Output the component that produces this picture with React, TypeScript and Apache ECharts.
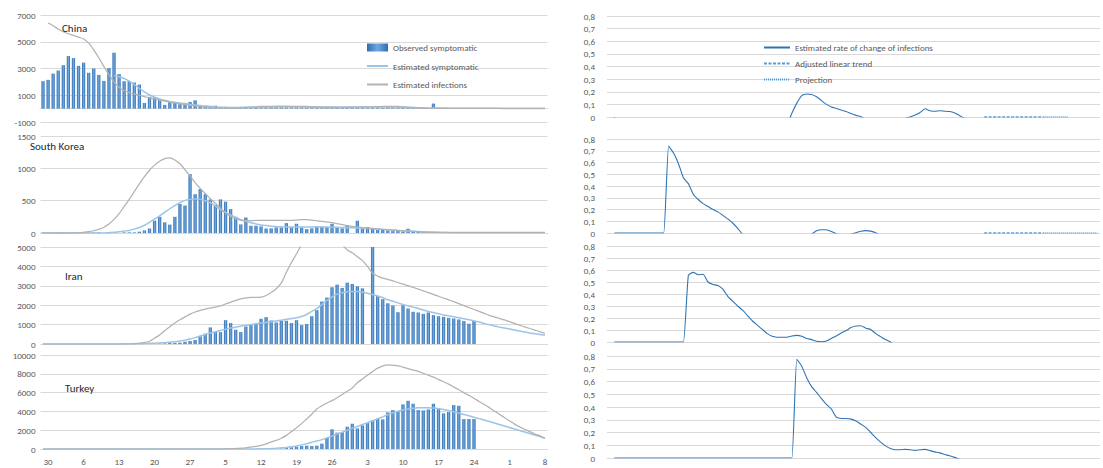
import React, { useEffect, useRef } from 'react';
import * as echarts from 'echarts';

// ---------- categories / ticks ----------
const DAY_COUNT = 100;
const days = Array.from({ length: DAY_COUNT }, (_, i) => `d${i}`);
const tickLabels = ['30', '6', '13', '20', '27', '5', '12', '19', '26', '3', '10', '17', '24', '1', '8'];
const FIRST_TICK = 1;
const TICK_STEP = 7;

function fromDay(start: number, values: (number | null)[]) {
  const out: (number | null)[] = new Array(start).fill(null).concat(values);
  while (out.length < DAY_COUNT) out.push(null);
  return out;
}

// ---------- China ----------
const chinaObserved = [
  2050, 2150, 2620, 2850, 3250, 3930, 3780, 3200, 3440, 2680,
  3000, 2520, 2070, 3030, 4180, 2580, 2050, 2070, 1950, 1800,
  420, 880, 860, 650, 280, 550, 500, 450, 430, 500,
  620, 250, 200, 150, 220, 100, 90, 80, 70, 80,
  90, 100, 110, 100, 110, 120, 110, 120, 110, 100,
  110, 100, 90, 100, 90, 80, 90, 80, 90, 80,
  90, 80, 90, 80, 70, 80, 90, 80, 100, 90,
  80, 70, 60, 50, 40, 50, 40, 380, 60, 50,
  40, 40, 30, 30, 20, 20,
];
const chinaSymptomatic = [
  2450, 2380, 2250, 2050, 1800, 1520, 1250, 1020, 850, 720,
  620, 540, 470, 410, 360, 310, 270, 230, 190, 160,
  130, 110, 95, 90, 90, 95, 100, 105, 110, 115,
  120, 125, 130, 130, 130, 125, 120, 115, 110, 110,
  110, 110, 110, 110, 110, 110, 110, 115, 120, 125,
  130, 130, 130, 125, 120, 115, 110, 100, 90, 80,
  70, 60, 50, 45, 40, 40, 35, 35, 30, 30,
  30, 25, 25, 20, 20, 20, 20, 15, 15, 15,
  15, 15, 10, 10, 10, 10,
];
const chinaInfections = [
  6400, 6200, 5950, 5750, 5600, 5480, 5350, 5200, 4900,
  4400, 3800, 3150, 2550, 2000, 1600, 1350, 1200, 1100, 1000,
  900, 800, 720, 640, 560, 490, 420, 360, 300, 250,
  200, 160, 120, 90, 60, 40, 30, 30, 40, 60,
  90, 120, 140, 160, 170, 175, 180, 180, 180, 175,
  170, 165, 160, 150, 140, 130, 125, 120, 120, 120,
  120, 120, 120, 125, 130, 140, 150, 160, 170, 170,
  160, 140, 110, 80, 50, 30, 20, 15, 15, 15,
  15, 15, 15, 15, 15, 15, 15, 15, 15, 15,
  15, 15, 15, 15, 15, 15, 15, 15, 15, 15,
];

// ---------- South Korea ----------
const koreaObserved = [
  10, 8, 10, 12, 8, 10, 10, 8, 10, 6,
  8, 10, null, null, null, null, 10, 10, 10, 20,
  40, 70, 190, 250, 165, 130, 250, 450, 425, 910,
  600, 680, 600, 520, 435, 520, 485, 370, 250, 133,
  240, 112, 112, 102, 70, 72, 87, 87, 153, 87,
  143, 87, 60, 72, 102, 102, 92, 143, 92, 72,
  117, null, 190, 72, 92, 77, 46, 46, 40, 30,
  36, 25, 66, 20, 15, 18, 14, 12, 10, 12,
  10, 8, 10, 8, 10, 9,
];
const koreaSymptomatic = [
  0, 0, 0, 0, 0, 0, 0, 0, 0, 0,
  0, 0, 0, 5, 10, 20, 30, 40, 60, 85,
  120, 165, 215, 265, 320, 375, 425, 470, 505, 520,
  525, 520, 500, 470, 420, 360, 320, 280, 240, 205,
  180, 160, 140, 125, 115, 105, 100, 95, 92, 92,
  92, 92, 92, 92, 92, 92, 92, 90, 88, 85,
  82, 80, 78, 75, 72, 68, 64, 58, 52, 46,
  40, 34, 30, 26, 22, 18, 15, 12, 10, 8,
  6, 5, 4, 3, 2, 2, 2, 2, 2, 2,
  2, 2, 2, 2, 2, 2, 2, 2, 2, 2,
];
const koreaInfections = [
  0, 0, 0, 0, 0, 0, 0, 5, 10, 20,
  35, 55, 90, 140, 210, 300, 410, 520, 640, 760,
  870, 970, 1050, 1110, 1150, 1160, 1130, 1070, 980, 880,
  780, 690, 610, 530, 460, 380, 310, 255, 220, 200,
  190, 190, 195, 195, 195, 195, 195, 195, 195, 195,
  200, 205, 205, 200, 190, 180, 170, 160, 145, 130,
  115, 102, 92, 85, 76, 68, 61, 55, 50, 46,
  40, 35, 30, 25, 20, 17, 14, 12, 10, 10,
  10, 10, 10, 10, 10, 10, 10, 10, 10, 10,
  10, 10, 10, 10, 10, 10, 10, 10, 10, 10,
];

// ---------- Iran ----------
const iranObserved = [
  20, 25, 30, 35, 50, 55, 70, 120, 155,
  205, 395, 530, 855, 615, 615, 1230, 1080, 735, 615,
  905, 990, 1045, 1300, 1385, 1215, 1110, 1200, 1200, 1080,
  1230, 975, 1030, 1435, 1745, 2190, 2395, 2925, 3060, 2890,
  3165, 3095, 2975, 2870, null, 5275, 2480, 2310, 2100, 1985,
  1640, 2000, 1830, 1660, 1625, 1555, 1625, 1490, 1435, 1400,
  1350, 1315, 1265, 1180, 1045, 1200,
];
const iranSymptomatic = [
  0, 0, 0, 0, 0, 0, 0, 0, 0, 0,
  0, 0, 0, 0, 0, 0, 0, 0, 5, 10,
  20, 35, 45, 55, 70, 85, 110, 150, 200, 255,
  330, 410, 490, 565, 630, 700, 760, 820, 870, 920,
  960, 1000, 1040, 1080, 1110, 1150, 1190, 1230, 1270, 1310,
  1350, 1420, 1520, 1680, 1820, 2030, 2250, 2430, 2570, 2640,
  2690, 2710, 2700, 2670, 2620, 2550, 2470, 2380, 2280, 2200,
  2120, 2040, 1970, 1900, 1830, 1750, 1680, 1620, 1560, 1500,
  1450, 1400, 1350, 1300, 1250, 1190, 1130, 1060, 990, 930,
  870, 820, 770, 720, 670, 620, 570, 530, 490, 450,
];
const iranInfections = [
  0, 0, 0, 0, 0, 0, 0, 0, 0, 0,
  0, 0, 0, 0, 0, 0, 5, 10, 20, 40,
  80, 140, 300, 470, 680, 890, 1080, 1250, 1400, 1540,
  1650, 1730, 1800, 1860, 1900, 1960, 2060, 2150, 2250, 2330,
  2380, 2400, 2400, 2420, 2500, 2650, 2850, 3150, 3700, 4200,
  4650, 5150, 5800, 6200, 6500, 6600, 6500, 6200, 5700, 5150,
  4850, 4700, 4500, 4300, 4000, 3650, 3500, 3400, 3330, 3250,
  3170, 3090, 3010, 2920, 2830, 2740, 2650, 2560, 2460, 2370,
  2275, 2180, 2080, 1980, 1880, 1780, 1680, 1580, 1480, 1400,
  1320, 1240, 1150, 1060, 970, 880, 800, 720, 640, 540,
];

// ---------- Turkey ----------
const turkeyObserved = [
  5, 10, 20, 50, 100, 177,
  250, 320, 355, 320, 355, 566, 1170, 2090, 1735, 1805,
  2370, 2690, 2195, 2515, 2760, 3010, 3220, 3150, 3895, 4140,
  4000, 4745, 5130, 4815, 4140, 4105, 4210, 4815, 4355, 3790,
  3930, 4670, 4600, 3185, 3185, 3185,
];
const turkeySymptomatic = [
  0, 0, 0, 0, 0, 0, 0, 0, 0, 0,
  0, 0, 0, 0, 0, 0, 0, 0, 0, 0,
  0, 0, 0, 0, 0, 0, 0, 0, 0, 0,
  0, 0, 0, 0, 0, 0, 0, 0, 0, 0,
  0, 5, 10, 20, 30, 50, 80, 120, 170, 240,
  330, 440, 570, 720, 850, 1000, 1180, 1370, 1580, 1790,
  1990, 2200, 2400, 2600, 2800, 3000, 3200, 3420, 3640, 3850,
  4020, 4150, 4260, 4340, 4390, 4400, 4390, 4350, 4290, 4200,
  4090, 3960, 3820, 3680, 3530, 3380, 3230, 3080, 2920, 2760,
  2600, 2440, 2280, 2120, 1960, 1800, 1640, 1480, 1320, 1150,
];
const turkeyInfections = [
  0, 0, 0, 0, 0, 0, 0, 0, 0, 0,
  0, 0, 0, 0, 0, 0, 0, 0, 0, 0,
  0, 0, 0, 0, 0, 0, 0, 0, 0, 0,
  0, 0, 0, 0, 0, 0, 20, 40, 60, 90,
  130, 190, 270, 380, 540, 760, 920, 1150, 1450, 1850,
  2250, 2700, 3200, 3700, 4250, 4600, 4900, 5150, 5450, 5800,
  6150, 6500, 7050, 7450, 7850, 8250, 8600, 8820, 8950, 8900,
  8850, 8700, 8550, 8400, 8250, 8050, 7850, 7650, 7400, 7150,
  6900, 6600, 6300, 6000, 5700, 5400, 5050, 4750, 4400, 4050,
  3700, 3350, 3000, 2650, 2350, 2100, 1850, 1600, 1400, 1150,
];

// ---------- rates of change (right column) ----------
const chinaRate = [
  null, 0, -0.4, -0.45, -0.4, -0.35, -0.3, -0.3, -0.25, -0.25,
  -0.2, -0.2, -0.2, -0.18, -0.18, -0.16, -0.15, -0.15, -0.14, -0.14,
  -0.13, -0.13, -0.12, -0.12, -0.11, -0.11, -0.1, -0.1, -0.1, -0.09,
  -0.09, -0.08, -0.08, -0.08, -0.07, -0.07, -0.06, 0.03, 0.11, 0.17,
  0.182, 0.178, 0.16, 0.13, 0.1, 0.08, 0.068, 0.055, 0.043, 0.027,
  0.013, 0.002, -0.02, -0.04, -0.05, -0.05, -0.05, -0.04, -0.03, -0.02,
  -0.01, 0.0, 0.015, 0.035, 0.065, 0.05, 0.045, 0.05, 0.046, 0.043,
  0.032, 0.012, -0.01, -0.03, -0.04,
];
const chinaTrend = [0, 0, 0, 0, 0, 0, 0, 0, 0, 0, 0, 0, 0];
const chinaProjection = [0, 0, 0, 0, 0, 0];
const koreaRate = [
  null, 0, 0, 0, 0, 0, 0, 0, 0, 0,
  0, 0, 0.74, 0.68, 0.59, 0.47, 0.42, 0.33, 0.285, 0.25,
  0.225, 0.2, 0.18, 0.15, 0.12, 0.085, 0.04, -0.01, -0.04, -0.05,
  -0.06, -0.06, -0.06, -0.06, -0.05, -0.05, -0.05, -0.04, -0.04, -0.03,
  -0.02, -0.01, 0.02, 0.028, 0.027, 0.012, -0.006, -0.02, -0.02, -0.01,
  0.002, 0.015, 0.02, 0.016, 0.003, -0.02, -0.03, -0.04, -0.04, -0.05,
  -0.05, -0.05, -0.05, -0.05, -0.04, -0.04, -0.04, -0.03, -0.03, -0.03,
  -0.03,
];
const koreaTrend = [0, 0, 0, 0, 0, 0, 0, 0, 0, 0, 0, 0, 0];
const koreaProjection = [0, 0, 0, 0, 0, 0, 0, 0, 0, 0, 0, 0];
const iranRate = [
  null, 0, 0, 0, 0, 0, 0, 0, 0, 0,
  0, 0, 0, 0, 0, 0, 0.555, 0.58, 0.56, 0.565,
  0.5, 0.48, 0.47, 0.44, 0.38, 0.34, 0.3, 0.265, 0.22, 0.175,
  0.14, 0.105, 0.07, 0.048, 0.04, 0.039, 0.04, 0.05, 0.055, 0.048,
  0.03, 0.02, 0.006, 0.002, 0.008, 0.03, 0.05, 0.075, 0.095, 0.12,
  0.133, 0.135, 0.115, 0.105, 0.07, 0.045, 0.02, 0.0, -0.03, -0.05,
  -0.06, -0.07, -0.07,
];
const turkeyRate = [
  null, 0, 0, 0, 0, 0, 0, 0, 0, 0,
  0, 0, 0, 0, 0, 0, 0, 0, 0, 0,
  0, 0, 0, 0, 0, 0, 0, 0, 0, 0,
  0, 0, 0, 0, 0, 0, 0, 0, 0.775, 0.72,
  0.63, 0.56, 0.515, 0.465, 0.42, 0.385, 0.32, 0.31, 0.31, 0.305,
  0.29, 0.265, 0.24, 0.2, 0.16, 0.125, 0.095, 0.075, 0.065, 0.065,
  0.068, 0.065, 0.06, 0.065, 0.068, 0.058, 0.048, 0.04, 0.028, 0.017,
  0.005, -0.01, -0.03,
];

const countries = ['China', 'South Korea', 'Iran', 'Turkey'];

// ---------- style ----------
const FONT = 'Carlito, Calibri, Lato, sans-serif';
const LABEL = '#595959';
const GRID_LINE = '#d9d9d9';
const LIGHT_BLUE = '#9dc3e6';
const GRAY = '#b2b2b2';
const RATE_BLUE = '#2e75b6';
const TREND_BLUE = '#5b9bd5';

const LEFT_X = 40.5;
const LEFT_W = 507;
const RIGHT_X = 607;
const RIGHT_W = 493;
const leftBoxes = [
  { top: 15, height: 107 },
  { top: 136, height: 97 },
  { top: 247, height: 97 },
  { top: 355, height: 94 },
];
const rightBoxes = [
  { top: 16, height: 101 },
  { top: 139, height: 94 },
  { top: 246, height: 96 },
  { top: 356, height: 102 },
];
const leftScales = [
  { min: -1000, max: 7000, interval: 2000 },
  { min: 0, max: 1500, interval: 500 },
  { min: 0, max: 5000, interval: 1000 },
  { min: 0, max: 10000, interval: 2000 },
];
const titlePos = [
  { left: 62, top: 23 },
  { left: 30, top: 141 },
  { left: 65, top: 271 },
  { left: 65, top: 383 },
];

export default function App() {
  const ref = useRef<HTMLDivElement>(null);

  useEffect(() => {
    if (!ref.current) return;
    const chart = echarts.init(ref.current, undefined, { renderer: 'svg' });

    const barColor = new echarts.graphic.LinearGradient(0, 0, 1, 0, [
      { offset: 0, color: '#2f6db2' },
      { offset: 0.5, color: '#70a9de' },
      { offset: 1, color: '#2f6db2' },
    ]);

    const grids: any[] = [];
    const xAxes: any[] = [];
    const yAxes: any[] = [];
    const series: any[] = [];

    const observed = [chinaObserved, koreaObserved, iranObserved, turkeyObserved];
    const observedStart = [0, 0, 21, 44];
    const symptomatic = [
      fromDay(14, chinaSymptomatic),
      fromDay(0, koreaSymptomatic),
      fromDay(0, iranSymptomatic),
      fromDay(0, turkeySymptomatic),
    ];
    const infections = [
      fromDay(1, chinaInfections),
      fromDay(0, koreaInfections),
      fromDay(0, iranInfections),
      fromDay(0, turkeyInfections),
    ];
    const rates = [chinaRate, koreaRate, iranRate, turkeyRate];

    leftBoxes.forEach((b, g) => {
      grids.push({ left: LEFT_X, width: LEFT_W, top: b.top, height: b.height });
      xAxes.push({
        type: 'category',
        gridIndex: g,
        data: days,
        boundaryGap: true,
        axisTick: { show: false },
        axisLine: { show: true, onZero: true, lineStyle: { color: GRID_LINE } },
        splitLine: { show: false },
        axisLabel:
          g === 3
            ? {
                show: true,
                interval: (i: number) => i >= FIRST_TICK && (i - FIRST_TICK) % TICK_STEP === 0,
                formatter: (_v: string, i: number) => tickLabels[(i - FIRST_TICK) / TICK_STEP] ?? '',
                fontSize: 9,
                color: LABEL,
                fontFamily: FONT,
                margin: 8,
              }
            : { show: false },
      });
      yAxes.push({
        type: 'value',
        gridIndex: g,
        ...leftScales[g],
        axisLine: { show: false },
        axisTick: { show: false },
        splitLine: { lineStyle: { color: GRID_LINE, width: 1 } },
        axisLabel: {
          fontSize: 9,
          color: LABEL,
          fontFamily: FONT,
          margin: 5,
          formatter: (v: number) => String(Math.round(v)),
        },
      });
      series.push({
        type: 'bar',
        name: 'Observed symptomatic',
        xAxisIndex: g,
        yAxisIndex: g,
        data: fromDay(observedStart[g], observed[g]),
        barWidth: '64%',
        itemStyle: { color: barColor },
        clip: true,
      });
      series.push({
        type: 'line',
        name: 'Estimated symptomatic',
        xAxisIndex: g,
        yAxisIndex: g,
        data: symptomatic[g],
        smooth: 0.3,
        symbol: 'none',
        showSymbol: false,
        lineStyle: { color: LIGHT_BLUE, width: 1.5 },
        itemStyle: { color: LIGHT_BLUE },
        clip: true,
      });
      series.push({
        type: 'line',
        name: 'Estimated infections',
        xAxisIndex: g,
        yAxisIndex: g,
        data: infections[g],
        smooth: 0.3,
        symbol: 'none',
        showSymbol: false,
        lineStyle: { color: GRAY, width: 1.25 },
        itemStyle: { color: GRAY },
        clip: true,
      });
    });

    rightBoxes.forEach((b, k) => {
      const g = k + 4;
      grids.push({ left: RIGHT_X, width: RIGHT_W, top: b.top, height: b.height });
      xAxes.push({
        type: 'category',
        gridIndex: g,
        data: days,
        boundaryGap: true,
        axisTick: { show: false },
        axisLine: { show: false },
        splitLine: { show: false },
        axisLabel: { show: false },
      });
      yAxes.push({
        type: 'value',
        gridIndex: g,
        min: 0,
        max: 0.8,
        interval: 0.1,
        axisLine: { show: false },
        axisTick: { show: false },
        splitLine: { lineStyle: { color: GRID_LINE, width: 1 } },
        axisLabel: {
          fontSize: 9,
          color: LABEL,
          fontFamily: FONT,
          margin: 12,
          formatter: (v: number) => (Math.abs(v) < 1e-9 ? '0' : v.toFixed(1).replace('.', ',')),
        },
      });
      series.push({
        type: 'line',
        name: 'Estimated rate of change of infections',
        xAxisIndex: g,
        yAxisIndex: g,
        data: fromDay(0, rates[k]),
        smooth: 0.15,
        symbol: 'none',
        showSymbol: false,
        lineStyle: { color: RATE_BLUE, width: 1.1 },
        itemStyle: { color: RATE_BLUE },
        clip: true,
      });
      if (k === 0 || k === 1) {
        series.push({
          type: 'line',
          name: 'Adjusted linear trend',
          xAxisIndex: g,
          yAxisIndex: g,
          data: fromDay(76, k === 0 ? chinaTrend : koreaTrend),
          symbol: 'none',
          showSymbol: false,
          lineStyle: { color: TREND_BLUE, width: 1.3, type: [3, 1.5] },
          itemStyle: { color: TREND_BLUE },
        });
        series.push({
          type: 'line',
          name: 'Projection',
          xAxisIndex: g,
          yAxisIndex: g,
          data: fromDay(88, k === 0 ? chinaProjection : koreaProjection),
          symbol: 'none',
          showSymbol: false,
          lineStyle: { color: TREND_BLUE, width: 1.3, type: [1, 1] },
          itemStyle: { color: TREND_BLUE },
        });
      }
    });

    const legendText = { fontSize: 9, color: LABEL, fontFamily: FONT };
    const hiddenSymbol = { opacity: 0 };
    const option: any = {
      animation: false,
      backgroundColor: '#ffffff',
      textStyle: { fontFamily: FONT },
      title: countries.map((c, i) => ({
        text: c,
        left: titlePos[i].left,
        top: titlePos[i].top,
        padding: 0,
        textStyle: { fontSize: 11, fontWeight: 'normal', color: '#262626', fontFamily: FONT },
      })),
      legend: [
        {
          data: [
            { name: 'Observed symptomatic', icon: 'rect' },
            { name: 'Estimated symptomatic', itemStyle: hiddenSymbol },
            { name: 'Estimated infections', itemStyle: hiddenSymbol },
          ],
          orient: 'vertical',
          left: 361,
          top: 38,
          itemWidth: 21,
          itemHeight: 8,
          itemGap: 9.5,
          selectedMode: false,
          textStyle: legendText,
        },
        {
          data: [
            { name: 'Estimated rate of change of infections', itemStyle: hiddenSymbol },
            { name: 'Adjusted linear trend', itemStyle: hiddenSymbol },
            { name: 'Projection', itemStyle: hiddenSymbol },
          ],
          orient: 'vertical',
          left: 758,
          top: 38,
          itemWidth: 26,
          itemHeight: 8,
          itemGap: 7,
          selectedMode: false,
          textStyle: legendText,
        },
      ],
      grid: grids,
      xAxis: xAxes,
      yAxis: yAxes,
      series,
    };

    chart.setOption(option);
    return () => chart.dispose();
  }, []);

  return (
    <div
      ref={ref}
      style={{ position: 'fixed', left: 0, top: 0, width: 1103, height: 468, background: '#fff' }}
    />
  );
}
